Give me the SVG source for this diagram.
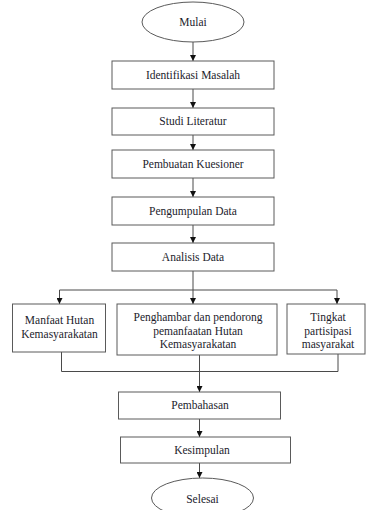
<svg xmlns="http://www.w3.org/2000/svg" width="372" height="510" viewBox="0 0 372 510" font-family="Liberation Serif, serif">
<style>
  .box{fill:#fff;stroke:#5a5a5a;stroke-width:1}
  .ln{fill:none;stroke:#4a4a4a;stroke-width:1}
  .t{font-family:'Liberation Serif',serif;font-size:11.5px;fill:#1c1c2c;text-anchor:middle}
</style>
<defs>
  <marker id="ah" viewBox="0 0 6 6" refX="6" refY="3" markerWidth="6" markerHeight="6" markerUnits="userSpaceOnUse" orient="auto">
    <path d="M0,0 L6,3 L0,6 Z" fill="#111"/>
  </marker>
</defs>
<rect width="372" height="510" fill="#fff"/>
<g id="connectors">
  <line class="ln" x1="193" y1="42" x2="193" y2="61" marker-end="url(#ah)"/>
  <line class="ln" x1="193" y1="89" x2="193" y2="108" marker-end="url(#ah)"/>
  <line class="ln" x1="193" y1="135" x2="193" y2="150" marker-end="url(#ah)"/>
  <line class="ln" x1="193" y1="178" x2="193" y2="197" marker-end="url(#ah)"/>
  <line class="ln" x1="193" y1="225" x2="193" y2="243" marker-end="url(#ah)"/>
  <line class="ln" x1="193" y1="271" x2="193" y2="304" marker-end="url(#ah)"/>
  <polyline class="ln" points="59.5,304 59.5,290 337,290 337,304" marker-end="url(#ah)"/>
  <line class="ln" x1="59.5" y1="292" x2="59.5" y2="304" marker-end="url(#ah)"/>
  <polyline class="ln" points="61.5,352 61.5,371.5 338,371.5 338,354"/>
  <line class="ln" x1="199.5" y1="355" x2="199.5" y2="392" marker-end="url(#ah)"/>
  <line class="ln" x1="199.5" y1="419" x2="199.5" y2="437" marker-end="url(#ah)"/>
  <line class="ln" x1="199.5" y1="463" x2="199.5" y2="478" marker-end="url(#ah)"/>
</g>
<g id="mulai">
  <ellipse class="box" cx="193" cy="22" rx="51" ry="20"/>
  <text class="t" x="193" y="26">Mulai</text>
</g>
<g id="identifikasi">
  <rect class="box" x="112" y="61" width="162" height="28"/>
  <text class="t" x="193" y="78.5">Identifikasi Masalah</text>
</g>
<g id="studi">
  <rect class="box" x="112" y="108" width="162" height="27"/>
  <text class="t" x="193" y="125">Studi Literatur</text>
</g>
<g id="pembuatan">
  <rect class="box" x="112" y="150" width="162" height="28"/>
  <text class="t" x="193" y="167.5">Pembuatan Kuesioner</text>
</g>
<g id="pengumpulan">
  <rect class="box" x="112" y="197" width="162" height="28"/>
  <text class="t" x="193" y="214.5">Pengumpulan Data</text>
</g>
<g id="analisis">
  <rect class="box" x="112" y="243" width="162" height="28"/>
  <text class="t" x="193" y="260.5">Analisis Data</text>
</g>
<g id="manfaat">
  <rect class="box" x="12.5" y="304" width="93" height="48"/>
  <text class="t" x="59.5" y="324">Manfaat Hutan</text>
  <text class="t" x="59.5" y="337.5">Kemasyarakatan</text>
</g>
<g id="penghambar">
  <rect class="box" x="117" y="304" width="160" height="51"/>
  <text class="t" x="198" y="321">Penghambar dan pendorong</text>
  <text class="t" x="198" y="334.5">pemanfaatan Hutan</text>
  <text class="t" x="198" y="348">Kemasyarakatan</text>
</g>
<g id="tingkat">
  <rect class="box" x="287" y="304" width="78" height="50"/>
  <text class="t" x="328" y="321">Tingkat</text>
  <text class="t" x="328" y="334.5">partisipasi</text>
  <text class="t" x="328" y="348">masyarakat</text>
</g>
<g id="pembahasan">
  <rect class="box" x="118.5" y="392" width="162" height="27"/>
  <text class="t" x="200" y="409">Pembahasan</text>
</g>
<g id="kesimpulan">
  <rect class="box" x="120.5" y="437" width="170" height="26"/>
  <text class="t" x="202" y="453.5">Kesimpulan</text>
</g>
<g id="selesai">
  <ellipse class="box" cx="202.5" cy="498" rx="51" ry="20"/>
  <text class="t" x="202.5" y="503">Selesai</text>
</g>
</svg>
